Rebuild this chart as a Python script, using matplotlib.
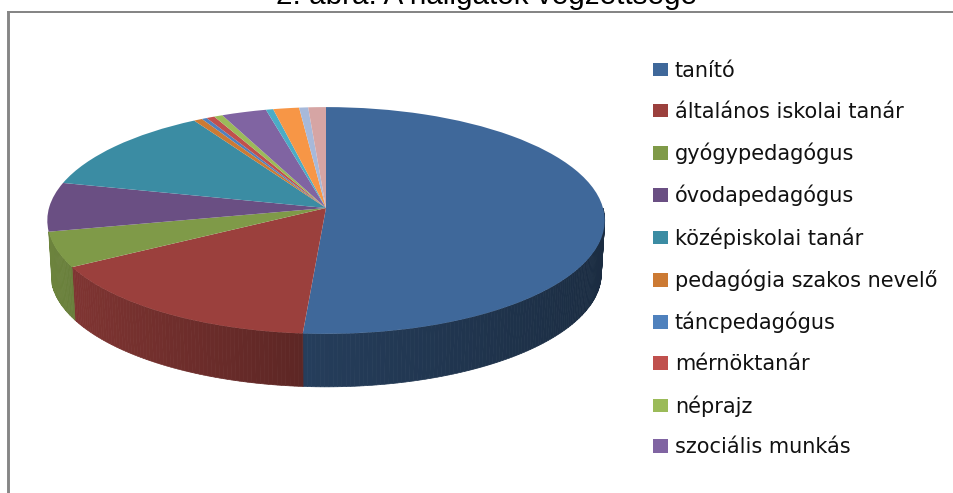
import numpy as np
import matplotlib
matplotlib.use("Agg")
import matplotlib.pyplot as plt
from matplotlib.colors import to_rgb
from matplotlib.transforms import Transform

labels = ["tanító", "általános iskolai tanár", "gyógypedagógus", "óvodapedagógus",
          "középiskolai tanár", "pedagógia szakos nevelő", "táncpedagógus",
          "mérnöktanár", "néprajz", "szociális munkás"]
values = [51.2, 15.5, 5.0, 7.0, 12.6, 0.55, 0.33, 0.53, 0.55, 2.9, 0.47, 1.67, 0.58, 1.14]
colors = ["#3F689A", "#9B403D", "#7F9A48", "#6A4F83", "#3B8CA3", "#CC7A33",
          "#4F81BD", "#C0504D", "#9BBB59", "#8064A2", "#4BACC6", "#F79646",
          "#A7B9DA", "#D6A5A4"]
title = "2. ábra: A hallgatók végzettsége"

W, H = 954, 493
CX, CY = 326.0, 208.0   # apex of the pie on the page
F, G, K = 277.0, 112.0, 0.11   # perspective of the tilted disc
DEPTH = 53
BOTTOM_SCALE = 0.988
WALL_SLICES = 3  # slices whose outer wall is visible


class Persp(Transform):
    input_dims = output_dims = 2
    has_inverse = False

    def transform_non_affine(self, xy):
        xy = np.asarray(xy, float)
        w = 1 + K*xy[:, 1]
        return np.column_stack([CX + F*xy[:, 0]/w, CY - G*xy[:, 1]/w])


fig = plt.figure(figsize=(W/100, H/100), dpi=100, facecolor="white")
ax = fig.add_axes([0, 0, 1, 1])
wedges, _ = ax.pie(values, colors=colors, startangle=90, counterclock=False,
                   wedgeprops=dict(linewidth=0), radius=1)
ax.set_aspect("auto")
ax.set_xlim(0, W); ax.set_ylim(H, 0)
ax.set_frame_on(False); ax.set_xticks([]); ax.set_yticks([])
ax.plot([7, W], [12, 12], color="#868686", lw=1.44, solid_capstyle="butt")
ax.plot([8.5, 8.5], [11.3, H], color="#868686", lw=2.1, solid_capstyle="butt")

persp = Persp()
for w in wedges:
    w.set_transform(persp + ax.transData)
    w.set_zorder(5)

# Side wall: thin shaded strips over the front half, split by slice
fracs = np.array(values)/sum(values)
edges = np.concatenate([[0], np.cumsum(fracs)])*360
for c, a0, a1 in list(zip(colors, edges[:-1], edges[1:]))[:WALL_SLICES]:
    lo, hi = max(a0, 90), min(a1, 270)
    if hi <= lo:
        continue
    n = max(int((hi-lo)/0.8), 1)
    th = np.linspace(lo, hi, n+1)
    base = np.array(to_rgb(c))
    for t0, t1 in zip(th[:-1], th[1:]):
        tt = np.radians(np.linspace(t0, t1, 4))
        top = persp.transform_non_affine(np.column_stack([np.sin(tt), np.cos(tt)]))
        xm = np.sin(np.radians((t0+t1)/2))
        shade = 0.58 - 0.16*xm if xm > 0 else 0.58 - 0.28*xm
        bx = CX + (top[:, 0]-CX)*BOTTOM_SCALE
        xs = np.concatenate([top[:, 0], bx[::-1]])
        ys = np.concatenate([top[:, 1], top[::-1, 1] + DEPTH])
        ax.fill(xs, ys, color=tuple(base*shade), lw=0.5, zorder=2)

# Legend
FS = 15
px = FS*100/72
leg = fig.legend(wedges[:10], labels, loc="upper left",
                 bbox_to_anchor=(653/W, 1-61/H), frameon=False,
                 prop=dict(family="DejaVu Sans", size=FS),
                 handlelength=15.5/px, handleheight=13/px, handletextpad=6.5/px,
                 labelspacing=1.0, borderpad=0, borderaxespad=0)
for t in leg.get_texts():
    t.set_color("#111111")

ax.text(487, 4, title, ha="center", va="baseline",
        family="Liberation Sans", fontsize=21.3, color="black", clip_on=False)

fig.savefig("out.png", dpi=100)
